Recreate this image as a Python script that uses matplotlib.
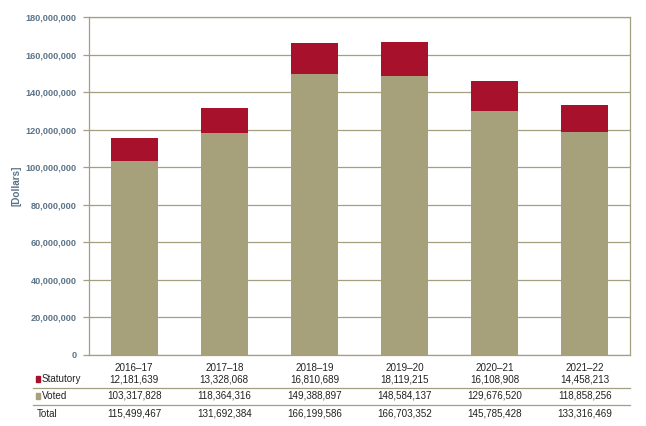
import matplotlib
matplotlib.use("Agg")
import matplotlib.pyplot as plt
from matplotlib.lines import Line2D
from matplotlib.patches import Rectangle
import matplotlib.transforms as mtransforms

years = ["2016–17", "2017–18", "2018–19", "2019–20", "2020–21", "2021–22"]
statutory = [12181639, 13328068, 16810689, 18119215, 16108908, 14458213]
voted = [103317828, 118364316, 149388897, 148584137, 129676520, 118858256]
total = [115499467, 131692384, 166199586, 166703352, 145785428, 133316469]
yticks = list(range(0, 180000001, 20000000))

plt.rcParams['font.family'] = ['Liberation Sans', 'DejaVu Sans']

W, H = 646, 426
fig = plt.figure(figsize=(W / 100, H / 100), dpi=100)
L, R, T, B = 89, 630, 17, 355
ax = fig.add_axes([L / W, 1 - B / H, (R - L) / W, (B - T) / H])

c_voted = "#A6A17A"
c_stat = "#A8112B"
c_frame = "#A39F82"
c_tick = "#5B7388"

x = list(range(len(years)))
ax.bar(x, voted, width=0.52, color=c_voted, zorder=3)
ax.bar(x, statutory, width=0.52, bottom=voted, color=c_stat, zorder=3)

ax.set_xlim(-0.5, len(years) - 0.5)
ax.set_ylim(0, 180000000)
ax.set_yticks(yticks)
ax.set_yticklabels([f"{v:,}" for v in yticks], fontsize=6.6, fontweight="bold", color=c_tick)
ax.set_xticks([])
ax.yaxis.grid(True, color=c_frame, linewidth=0.9, zorder=0)
ax.tick_params(axis="y", length=4, color=c_frame, width=0.9, pad=5)
for s in ax.spines.values():
    s.set_color(c_frame)
    s.set_linewidth(0.9)
ax.set_ylabel("[Dollars]", fontsize=7.2, fontweight="bold", color=c_tick, labelpad=3)

trans = mtransforms.blended_transform_factory(ax.transData, fig.transFigure)
def fy(py):
    return 1 - py / H

fs = 7.1
tc = "#222222"
for i, yr in enumerate(years):
    fig.text(i, fy(368), yr, transform=trans, ha="center", va="center", fontsize=fs, color=tc)
    fig.text(i, fy(379), f"{statutory[i]:,}", transform=trans, ha="center", va="center", fontsize=fs, color=tc)
    fig.text(i, fy(396), f"{voted[i]:,}", transform=trans, ha="center", va="center", fontsize=fs, color=tc)
    fig.text(i, fy(414), f"{total[i]:,}", transform=trans, ha="center", va="center", fontsize=fs, color=tc)

fig.patches.append(Rectangle((36 / W, fy(382)), 4 / W, 6 / H, transform=fig.transFigure, color=c_stat))
fig.patches.append(Rectangle((36 / W, fy(399)), 4 / W, 6 / H, transform=fig.transFigure, color=c_voted))
fig.text(42 / W, fy(379), "Statutory", ha="left", va="center", fontsize=fs, color=tc)
fig.text(42 / W, fy(396), "Voted", ha="left", va="center", fontsize=fs, color=tc)
fig.text(37 / W, fy(414), "Total", ha="left", va="center", fontsize=fs, color=tc)

for py in (388, 405):
    fig.lines.append(Line2D([33 / W, R / W], [fy(py), fy(py)], transform=fig.transFigure, color=c_frame, linewidth=0.9))

fig.savefig("out.png", dpi=100)
